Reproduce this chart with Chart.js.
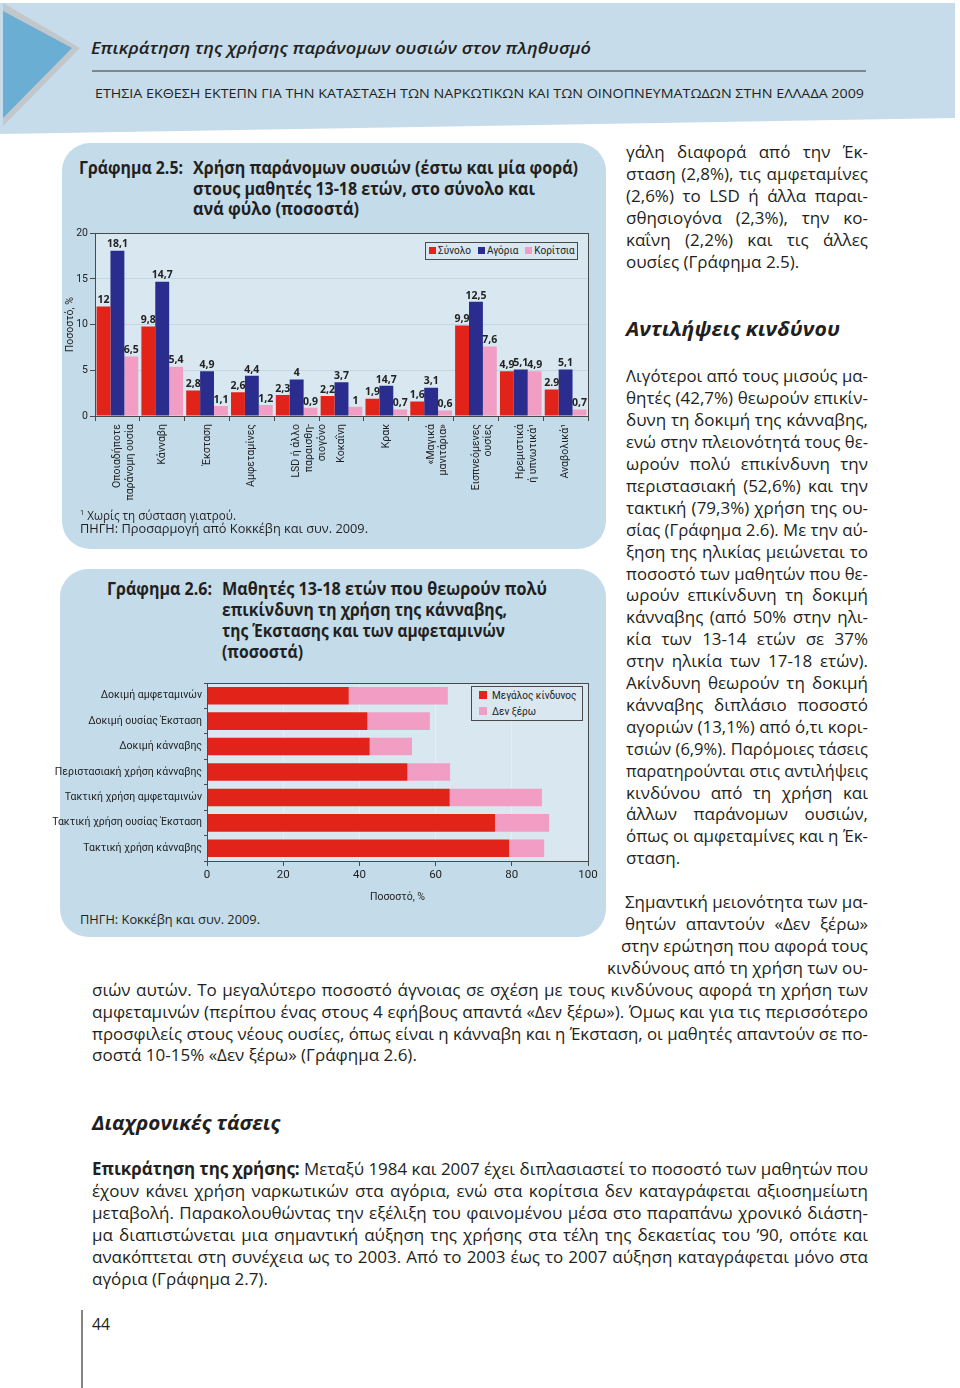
<!DOCTYPE html>
<html lang="el">
<head>
<meta charset="utf-8">
<title>Γράφημα 2.5 και 2.6</title>
<script src="https://cdn.jsdelivr.net/npm/chart.js@4.4.1/dist/chart.umd.min.js"></script>
<style>
  html, body { margin: 0; padding: 0; background: #fff; }
  body { width: 960px; height: 1388px; position: relative; overflow: hidden;
         font-family: "Open Sans", sans-serif; color: #231f20; }
  .abs { position: absolute; }
  .ln { position: absolute; white-space: nowrap; }
  .panel { position: absolute; background: #c4dcea; border-radius: 28px; }
  .legend { position: absolute; background: #d8e7f0; border: 1px solid #4a4a4a; white-space: nowrap;
            font-family: Roboto, sans-serif; font-size: 10px; color: #222; box-sizing: border-box; }
  .sw { display: inline-block; width: 7px; height: 7px; margin-right: 2px; vertical-align: 0; }
</style>
</head>
<body>

<svg class="abs" style="left:0;top:0" width="960" height="140">
  <polygon points="0,3 955,3 955,118 0,134" fill="#c6dcea"/>
  <polygon points="3,3 80,48 3,126" fill="#c2c7cc"/>
  <polygon points="3,11 72,48 3,118" fill="#6aaed3"/>
  <line x1="92" y1="71" x2="866" y2="71" stroke="#333" stroke-width="1"/>
</svg>

<div class="panel" style="left:62px;top:143px;width:544px;height:406px;"></div>
<div class="panel" style="left:60px;top:569px;width:546px;height:368px;"></div>

<canvas id="useChart" class="abs" width="538" height="290" style="left:62px;top:225px;"></canvas>
<canvas id="riskChart" class="abs" width="560" height="232" style="left:40px;top:672px;"></canvas>

<div class="legend" style="left:425px;top:242px;width:153px;height:18px;line-height:16px;padding-left:3px;">
  <span id="lg25"></span>
</div>
<div class="legend" style="left:471px;top:686px;width:112px;height:35px;line-height:16px;padding:1px 0 0 7px;">
  <div id="lg26"></div>
</div>

<svg class="abs" style="left:0;top:1300px" width="100" height="88">
  <line x1="82" y1="10" x2="82" y2="88" stroke="#333" stroke-width="1.2"/>
</svg>

<script>
// ---------------- data: Γράφημα 2.5 ----------------
const drugLabels = [
  ["Οποιαδήποτε", "παράνομη ουσία"], "Κάνναβη", "Έκσταση", "Αμφεταμίνες",
  ["LSD ή άλλο", "παραισθη-", "σιογόνο"], "Κοκαΐνη", "Κρακ",
  ["«Μαγικά", "μανιτάρια»"], ["Εισπνεόμενες", "ουσίες"],
  ["Ηρεμιστικά", "ή υπνωτικά¹"], "Αναβολικά¹"
];
const seriesNames = ["Σύνολο", "Αγόρια", "Κορίτσια"];
const totalValues = [12, 9.8, 2.8, 2.6, 2.3, 2.2, 1.9, 1.6, 9.9, 4.9, 2.9];
const boysValues  = [18.1, 14.7, 4.9, 4.4, 4, 3.7, 3.3, 3.1, 12.5, 5.1, 5.1];
const girlsValues = [6.5, 5.4, 1.1, 1.2, 0.9, 1, 0.7, 0.6, 7.6, 4.9, 0.7];
// labels as printed (incl. the printed "14,7" on Κρακ and "2.9")
const totalText = ["12", "9,8", "2,8", "2,6", "2,3", "2,2", "1,9", "1,6", "9,9", "4,9", "2.9"];
const boysText  = ["18,1", "14,7", "4,9", "4,4", "4", "3,7", "14,7", "3,1", "12,5", "5,1", "5,1"];
const girlsText = ["6,5", "5,4", "1,1", "1,2", "0,9", "1", "0,7", "0,6", "7,6", "4,9", "0,7"];
const useTicks = [0, 5, 10, 15, 20];

// ---------------- data: Γράφημα 2.6 ----------------
const riskLabels = [
  "Δοκιμή αμφεταμινών", "Δοκιμή ουσίας Έκσταση", "Δοκιμή κάνναβης",
  "Περιστασιακή χρήση κάνναβης", "Τακτική χρήση αμφεταμινών",
  "Τακτική χρήση ουσίας Έκσταση", "Τακτική χρήση κάνναβης"
];
const riskNames = ["Μεγάλος κίνδυνος", "Δεν ξέρω"];
const highRisk = [37.2, 42.1, 42.7, 52.6, 63.7, 75.6, 79.3];
const dontKnow = [26.0, 16.4, 11.1, 11.2, 24.2, 14.2, 9.2];
const riskTicks = [0, 20, 40, 60, 80, 100];

const RED = "#e2231a", BLUE = "#2b2d8e", PINK = "#f29ec4";
const PLOT_BG = "#d8e7f0", FRAME = "#4a4a4a", INK = "#222";

// ---------------- page text ----------------
const colA = [
  "γάλη διαφορά από την Έκ-",
  "σταση (2,8%), τις αμφεταμίνες",
  "(2,6%) το LSD ή άλλα παραι-",
  "σθησιογόνα (2,3%), την κο-",
  "καΐνη (2,2%) και τις άλλες",
  "ουσίες (Γράφημα 2.5)."
];
const colB = [
  "Λιγότεροι από τους μισούς μα-",
  "θητές (42,7%) θεωρούν επικίν-",
  "δυνη τη δοκιμή της κάνναβης,",
  "ενώ στην πλειονότητά τους θε-",
  "ωρούν πολύ επικίνδυνη την",
  "περιστασιακή (52,6%) και την",
  "τακτική (79,3%) χρήση της ου-",
  "σίας (Γράφημα 2.6). Με την αύ-",
  "ξηση της ηλικίας μειώνεται το",
  "ποσοστό των μαθητών που θε-",
  "ωρούν επικίνδυνη τη δοκιμή",
  "κάνναβης (από 50% στην ηλι-",
  "κία των 13-14 ετών σε 37%",
  "στην ηλικία των 17-18 ετών).",
  "Ακίνδυνη θεωρούν τη δοκιμή",
  "κάνναβης διπλάσιο ποσοστό",
  "αγοριών (13,1%) από ό,τι κορι-",
  "τσιών (6,9%). Παρόμοιες τάσεις",
  "παρατηρούνται στις αντιλήψεις",
  "κινδύνου από τη χρήση και",
  "άλλων παράνομων ουσιών,",
  "όπως οι αμφεταμίνες και η Έκ-",
  "σταση."
];
const colC = [
  [625, "Σημαντική μειονότητα των μα-"],
  [625, "θητών απαντούν «Δεν ξέρω»"],
  [621, "στην ερώτηση που αφορά τους"],
  [607, "κινδύνους από τη χρήση των ου-"],
  [92, "σιών αυτών. Το μεγαλύτερο ποσοστό άγνοιας σε σχέση με τους κινδύνους αφορά τη χρήση των"],
  [92, "αμφεταμινών (περίπου ένας στους 4 εφήβους απαντά «Δεν ξέρω»). Όμως και για τις περισσότερο"],
  [92, "προσφιλείς στους νέους ουσίες, όπως είναι η κάνναβη και η Έκσταση, οι μαθητές απαντούν σε πο-"],
  [92, "σοστά 10-15% «Δεν ξέρω» (Γράφημα 2.6)."]
];
const colD = [
  "<b>Επικράτηση της χρήσης:</b> Μεταξύ 1984 και 2007 έχει διπλασιαστεί το ποσοστό των μαθητών που",
  "έχουν κάνει χρήση ναρκωτικών στα αγόρια, ενώ στα κορίτσια δεν καταγράφεται αξιοσημείωτη",
  "μεταβολή. Παρακολουθώντας την εξέλιξη του φαινομένου μέσα στο παραπάνω χρονικό διάστη-",
  "μα διαπιστώνεται μια σημαντική αύξηση της χρήσης στα τέλη της δεκαετίας του ’90, οπότε και",
  "ανακόπτεται στη συνέχεια ως το 2003. Από το 2003 έως το 2007 αύξηση καταγράφεται μόνο στα",
  "αγόρια (Γράφημα 2.7)."
];

// ======================================================
// text helpers
// ======================================================
function fitLine(el) {
  const span = el.firstChild;
  const target = parseFloat(el.dataset.w);
  const natural = span.getBoundingClientRect().width;
  const mode = el.dataset.mode;
  if (mode === "scale" || natural > target) {
    span.style.display = "inline-block";
    span.style.transformOrigin = "0 50%";
    span.style.transform = `scaleX(${(target / natural).toFixed(4)})`;
  } else if (mode === "justify") {
    el.style.textAlign = "justify";
    el.style.textAlignLast = "justify";
  }
}

function putLine(html, x, y, w, mode, style) {
  const fs = style.fs || 16;
  const lh = Math.round(fs * 1.375);
  const d = document.createElement("div");
  d.className = "ln";
  d.style.left = x + "px";
  d.style.top = (y - (lh / 2 + fs * (style.caps ? 0.02 : 0.12))) + "px";
  d.style.width = w + "px";
  d.style.fontSize = fs + "px";
  d.style.lineHeight = lh + "px";
  if (style.weight) d.style.fontWeight = style.weight;
  if (style.italic) d.style.fontStyle = "italic";
  d.dataset.w = w;
  d.dataset.mode = mode;
  d.innerHTML = `<span>${html}</span>`;
  document.body.appendChild(d);
  fitLine(d);
}

function buildText() {
  const body = { fs: 17 };
  const title = { fs: 17, weight: 700 };

  // header
  putLine("Επικράτηση της χρήσης παράνομων ουσιών στον πληθυσμό", 91, 50, 500, "scale",
          { fs: 17, weight: 600, italic: true });
  putLine("ΕΤΗΣΙΑ ΕΚΘΕΣΗ ΕΚΤΕΠΝ ΓΙΑ ΤΗΝ ΚΑΤΑΣΤΑΣΗ ΤΩΝ ΝΑΡΚΩΤΙΚΩΝ ΚΑΙ ΤΩΝ ΟΙΝΟΠΝΕΥΜΑΤΩΔΩΝ ΣΤΗΝ ΕΛΛΑΔΑ 2009",
          95, 93, 769, "scale", { fs: 13, caps: true });

  // chart 2.5 title + notes
  putLine("Γράφημα 2.5:", 79, 170, 104, "scale", title);
  putLine("Χρήση παράνομων ουσιών (έστω και μία φορά)", 193, 170, 385, "scale", title);
  putLine("στους μαθητές 13-18 ετών, στο σύνολο και", 193, 191, 342, "scale", title);
  putLine("ανά φύλο (ποσοστά)", 193, 211, 166, "scale", title);
  putLine("<sup style='font-size:8px'>1</sup> Χωρίς τη σύσταση γιατρού.", 80, 513, 156, "scale", { fs: 12.5 });
  putLine("ΠΗΓΗ: Προσαρμογή από Κοκκέβη και συν. 2009.", 80, 530, 288, "scale", { fs: 12.5 });

  // chart 2.6 title + source
  putLine("Γράφημα 2.6:", 107, 591, 105, "scale", title);
  putLine("Μαθητές 13-18 ετών που θεωρούν πολύ", 222, 591, 325, "scale", title);
  putLine("επικίνδυνη τη χρήση της κάνναβης,", 222, 612, 285, "scale", title);
  putLine("της Έκστασης και των αμφεταμινών", 222, 633, 283, "scale", title);
  putLine("(ποσοστά)", 222, 654, 81, "scale", title);
  putLine("ΠΗΓΗ: Κοκκέβη και συν. 2009.", 80, 921, 180, "scale", { fs: 12.5 });

  // right column
  colA.forEach((t, i) => putLine(t, 626, 154 + i * 22, 242,
                                  i === colA.length - 1 ? "left" : "justify", body));
  putLine("Αντιλήψεις κινδύνου", 626, 331, 214, "scale", { fs: 20, weight: 700, italic: true });
  colB.forEach((t, i) => putLine(t, 626, 378 + i * 21.9, 242,
                                  i === colB.length - 1 ? "left" : "justify", body));
  colC.forEach(([x, t], i) => putLine(t, x, 904 + i * 21.86, 868 - x,
                                       i === colC.length - 1 ? "left" : "justify", body));

  putLine("Διαχρονικές τάσεις", 92, 1125, 188, "scale", { fs: 20, weight: 700, italic: true });
  colD.forEach((t, i) => putLine(t, 92, 1171 + i * 22, 776,
                                  i === colD.length - 1 ? "left" : "justify", body));
  putLine("44", 92, 1326, 18, "scale", body);
}

// ======================================================
// chart plugins
// ======================================================
const plotFrame = {
  id: "plotFrame",
  beforeDraw(chart, args, opts) {
    const a = chart.chartArea, ctx = chart.ctx;
    ctx.save();
    ctx.fillStyle = opts.fill;
    ctx.fillRect(a.left, a.top, a.right - a.left, a.bottom - a.top);
    ctx.restore();
  },
  afterDraw(chart, args, opts) {
    const a = chart.chartArea, ctx = chart.ctx;
    ctx.save();
    ctx.strokeStyle = opts.stroke;
    ctx.lineWidth = 1;
    ctx.strokeRect(Math.round(a.left) + 0.5, Math.round(a.top) + 0.5,
                   Math.round(a.right - a.left), Math.round(a.bottom - a.top));
    ctx.restore();
  }
};

const barValueLabels = {
  id: "barValueLabels",
  afterDatasetsDraw(chart, args, opts) {
    if (!opts.show) return;
    const ctx = chart.ctx;
    ctx.save();
    ctx.font = opts.font;
    ctx.fillStyle = opts.color;
    ctx.textAlign = "center";
    ctx.textBaseline = "bottom";
    chart.data.datasets.forEach((ds, i) => {
      chart.getDatasetMeta(i).data.forEach((bar, j) => {
        ctx.fillText(ds.valueText[j], bar.x, bar.y - 1);
      });
    });
    ctx.restore();
  }
};

// ======================================================
// Γράφημα 2.5
// ======================================================
function drawUseChart() {
  const colors = [RED, BLUE, PINK];
  const values = [totalValues, boysValues, girlsValues];
  const texts = [totalText, boysText, girlsText];

  new Chart(document.getElementById("useChart"), {
    type: "bar",
    data: {
      labels: drugLabels,
      datasets: seriesNames.map((name, i) => ({
        label: name,
        data: values[i],
        valueText: texts[i],
        backgroundColor: colors[i],
        borderWidth: 0,
        categoryPercentage: 0.93,
        barPercentage: 1.0
      }))
    },
    options: {
      responsive: false,
      animation: false,
      layout: { padding: { top: 8, right: 12, left: 0, bottom: 0 } },
      plugins: {
        legend: { display: false },
        tooltip: { enabled: false },
        plotFrame: { fill: PLOT_BG, stroke: FRAME },
        barValueLabels: { show: true, font: "bold 10.5px 'Open Sans'", color: INK }
      },
      scales: {
        x: {
          afterFit(s) { s.height = 99; },
          ticks: { autoSkip: false, minRotation: 90, maxRotation: 90, padding: 3,
                   color: INK, font: { family: "Roboto", size: 10.5 } },
          grid: { drawOnChartArea: false, offset: true, tickLength: 5, tickColor: FRAME },
          border: { color: FRAME }
        },
        y: {
          min: 0, max: 20,
          afterFit(s) { s.width = 33; },
          afterBuildTicks(s) { s.ticks = useTicks.map(v => ({ value: v })); },
          ticks: { padding: 2, color: INK, font: { family: "Roboto", size: 10.5 } },
          grid: { color: "#c3d6e2", tickLength: 5, tickColor: FRAME },
          border: { color: FRAME },
          title: { display: true, text: "Ποσοστό, %", color: INK,
                   font: { family: "Roboto", size: 10.5 }, padding: { top: 2, bottom: 0 } }
        }
      }
    },
    plugins: [plotFrame, barValueLabels]
  });

  document.getElementById("lg25").innerHTML = seriesNames.map((n, i) =>
    `<span style="margin-right:${i < 2 ? 7 : 0}px"><span class="sw" style="background:${colors[i]}"></span>${n}</span>`
  ).join("");
}

// ======================================================
// Γράφημα 2.6
// ======================================================
function drawRiskChart() {
  const colors = [RED, PINK];
  const values = [highRisk, dontKnow];

  new Chart(document.getElementById("riskChart"), {
    type: "bar",
    data: {
      labels: riskLabels,
      datasets: riskNames.map((name, i) => ({
        label: name,
        data: values[i],
        backgroundColor: colors[i],
        borderWidth: 0,
        categoryPercentage: 0.69,
        barPercentage: 1.0
      }))
    },
    options: {
      indexAxis: "y",
      responsive: false,
      animation: false,
      layout: { padding: { top: 11, right: 12, left: 0, bottom: 0 } },
      plugins: {
        legend: { display: false },
        tooltip: { enabled: false },
        plotFrame: { fill: PLOT_BG, stroke: FRAME },
        barValueLabels: { show: false }
      },
      scales: {
        x: {
          stacked: true,
          min: 0, max: 100,
          afterFit(s) { s.height = 43; },
          afterBuildTicks(s) { s.ticks = riskTicks.map(v => ({ value: v })); },
          ticks: { padding: 2, color: INK, font: { family: "Roboto", size: 11.5 } },
          grid: { color: "#e4eef4", tickLength: 5, tickColor: FRAME },
          border: { color: FRAME },
          title: { display: true, text: "Ποσοστό, %", color: INK,
                   font: { family: "Roboto", size: 10.5 }, padding: { top: 3, bottom: 0 } }
        },
        y: {
          stacked: true,
          afterFit(s) { s.width = 167; },
          ticks: { padding: 2, color: INK, font: { family: "Roboto", size: 10.5 } },
          grid: { drawOnChartArea: false, offset: true, tickLength: 3, tickColor: FRAME },
          border: { color: FRAME }
        }
      }
    },
    plugins: [plotFrame]
  });

  document.getElementById("lg26").innerHTML = riskNames.map((n, i) =>
    `<div><span class="sw" style="width:8px;height:8px;margin-right:5px;background:${colors[i]}"></span>${n}</div>`
  ).join("");
}

async function init() {
  try {
    await Promise.all([
      document.fonts.load('16px "Open Sans"'),
      document.fonts.load('bold 16px "Open Sans"'),
      document.fonts.load('italic 600 16px "Open Sans"'),
      document.fonts.load('10px Roboto')
    ]);
  } catch (e) { console.warn(e); }
  buildText();
  drawUseChart();
  drawRiskChart();
}

init();
</script>
</body>
</html>
